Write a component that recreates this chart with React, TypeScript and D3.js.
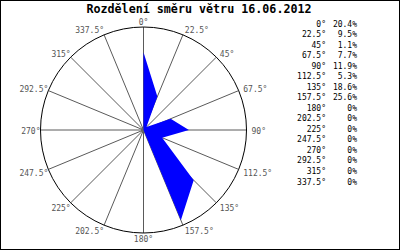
import React from "react";
import * as d3 from "d3";

const title = "Rozdělení směru větru 16.06.2012";
const directions = [0, 22.5, 45, 67.5, 90, 112.5, 135, 157.5, 180, 202.5, 225, 247.5, 270, 292.5, 315, 337.5];
const dirLabels = ["0°", "22.5°", "45°", "67.5°", "90°", "112.5°", "135°", "157.5°", "180°", "202.5°", "225°", "247.5°", "270°", "292.5°", "315°", "337.5°"];
const percents = [20.4, 9.5, 1.1, 7.7, 11.9, 5.3, 18.6, 25.6, 0, 0, 0, 0, 0, 0, 0, 0];
const percentLabels = ["20.4%", "9.5%", "1.1%", "7.7%", "11.9%", "5.3%", "18.6%", "25.6%", "0%", "0%", "0%", "0%", "0%", "0%", "0%", "0%"];

const W = 400;
const H = 250;
const cx = 143.5;
const cy = 130;
const R = 103;
const FONT = "'DejaVu Sans Mono', 'Liberation Mono', monospace";

export default function App() {
  const r = d3.scaleLinear().domain([0, 27]).range([0, R]);
  const rad = (deg: number) => (deg * Math.PI) / 180;
  const px = (deg: number, rr: number) => cx + rr * Math.sin(rad(deg));
  const py = (deg: number, rr: number) => cy - rr * Math.cos(rad(deg));

  const radial = d3
    .lineRadial<number>()
    .angle((_, i) => rad(directions[i]))
    .radius((d) => r(d))
    .curve(d3.curveLinearClosed);
  const areaPath = radial(percents) || "";

  const legendY = d3.scaleLinear().domain([0, 15]).range([26.5, 184.5]);

  return (
    <svg
      width={W}
      height={H}
      style={{ position: "absolute", left: 0, top: 0, display: "block", background: "#fff" }}
    >
      <rect x={0.5} y={0.5} width={W - 1} height={H - 1} fill="#fff" stroke="#000" strokeWidth={1} />
      <text
        x={199}
        y={13}
        textAnchor="middle"
        fontFamily={FONT}
        fontWeight="bold"
        fontSize={11.7}
        fill="#000"
      >
        {title}
      </text>

      {directions.map((d, i) => (
        <line
          key={"s" + i}
          x1={cx}
          y1={cy}
          x2={px(d, R)}
          y2={py(d, R)}
          stroke="#5a5a5a"
          strokeWidth={1}
        />
      ))}
      <circle cx={cx} cy={cy} r={R} fill="none" stroke="#000" strokeWidth={1} />
      <circle cx={cx} cy={cy} r={2.5} fill="#666" />

      <path d={areaPath} transform={`translate(${cx},${cy})`} fill="#0000ff" stroke="none" />

      {directions.map((d, i) => {
        const s = Math.sin(rad(d));
        const c = Math.cos(rad(d));
        let anchor = "middle";
        let x = cx;
        if (s > 0.1) {
          anchor = "start";
          x = px(d, R + 5);
        } else if (s < -0.1) {
          anchor = "end";
          x = px(d, R);
        }
        const off = Math.max(-3, Math.min(9, 4 - 6 * c));
        const y = py(d, R) + off;
        return (
          <text
            key={"l" + i}
            x={x}
            y={y}
            textAnchor={anchor}
            fontFamily={FONT}
            fontSize={8}
            fill="#555"
          >
            {dirLabels[i]}
          </text>
        );
      })}

      {dirLabels.map((lab, i) => (
        <g key={"g" + i}>
          <text
            x={326}
            y={legendY(i)}
            textAnchor="end"
            fontFamily={FONT}
            fontSize={8}
            fill="#000"
          >
            {lab}
          </text>
          <text
            x={357}
            y={legendY(i)}
            textAnchor="end"
            fontFamily={FONT}
            fontSize={8}
            fill="#000"
          >
            {percentLabels[i]}
          </text>
        </g>
      ))}
    </svg>
  );
}
